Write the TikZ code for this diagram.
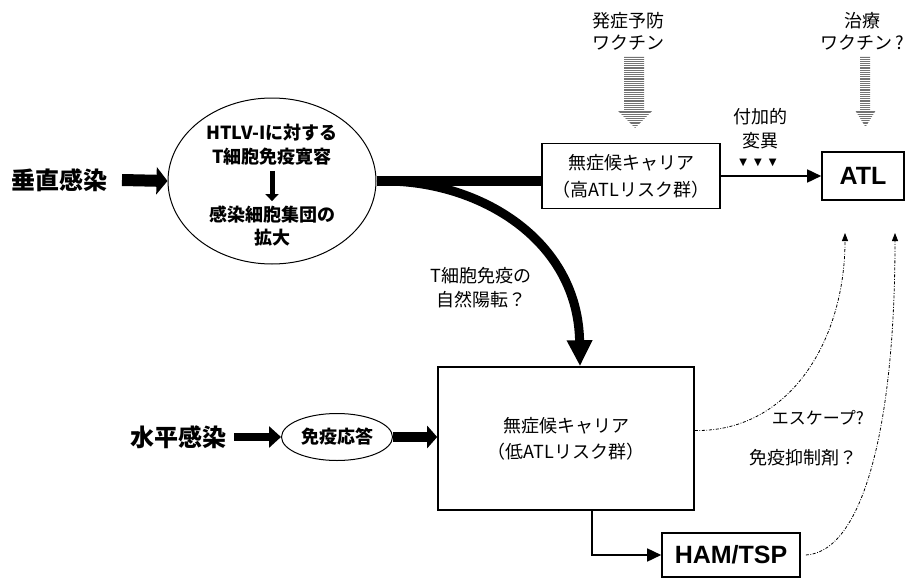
\documentclass[tikz,border=0pt]{standalone}
\usepackage{fontspec}
\setmainfont{Noto Sans CJK JP}
\newfontfamily\lsans{Liberation Sans}
\newfontfamily\dvsans{DejaVu Sans}
\usetikzlibrary{arrows.meta,shapes.geometric}
\begin{document}
\begin{tikzpicture}[x=1pt,y=-1pt,
  box/.style={draw, line width=1.6pt, inner sep=0pt, align=center},
  txt/.style={align=center, inner sep=0pt, font=\fontsize{18}{24}\selectfont},
  btxt/.style={align=center, inner sep=0pt, font=\bfseries\fontsize{18}{24}\selectfont},
  big/.style={inner sep=0pt, font=\bfseries\fontsize{24}{28}\selectfont},
  latinbig/.style={font=\lsans\bfseries\fontsize{25}{28}\selectfont},
  blk/.style={line width=12pt, -{Triangle[length=11pt,width=27pt]}},
  blks/.style={line width=8pt, -{Triangle[length=12pt,width=21pt]}},
  thin/.style={line width=1.6pt, -{Triangle[length=14pt,width=13pt]}},
  dd/.style={line width=0.8pt, dash pattern=on 3pt off 1.6pt on 0.8pt off 1.6pt, -{Triangle[length=8pt,width=6pt]}},
  stripe/.style={line width=1.1pt, black!55}
]
\useasboundingbox (0,0) rectangle (907,578);

% vertical infection
\node[big] (vert) at (60,180) {垂直感染};
\node[draw, ellipse, line width=1pt, minimum width=208pt, minimum height=166pt, inner sep=0pt] (ell) at (272,181) {};
\coordinate (vs) at (122,180);
\draw[blk] (vs) -- (ell.west);
\node[btxt] (e1) at (272,133) {HTLV-Iに対する};
\node[btxt] (e2) at (272,157) {T細胞免疫寛容};
\node[btxt] (e3) at (272,215) {感染細胞集団の};
\node[btxt] (e4) at (272,238) {拡大};
\draw[line width=5pt, -{Triangle[length=7pt,width=13pt]}] ([yshift=-5pt]e2.south) -- ([yshift=5pt]e3.north);

% high-risk carrier
\node[box, minimum width=178pt, minimum height=65pt, txt, font=\fontsize{18}{27}\selectfont] (b1) at (631,176) {無症候キャリア\\（高ATLリスク群）};
\draw[line width=10pt] (ell.east) -- (ell.east -| b1.west);

% ATL
\node[box, latinbig, minimum width=82pt, minimum height=48pt] (atl) at (863,176) {ATL};
\draw[thin] (b1.east) -- (atl.west);
\node[txt] (mut) at (760,129) {付加的\\変異};
\node[inner sep=0pt, font=\dvsans\fontsize{10}{12}\selectfont] (tri) at (758,163) {▼\hspace{7pt}▼\hspace{7pt}▼};

% vaccines
\node[txt, font=\fontsize{18}{22}\selectfont] (vac1) at (628,31) {発症予防\\ワクチン};
\node[txt, font=\fontsize{18}{22}\selectfont] (vac2) at (862,31) {治療\\ワクチン\,?};
\begin{scope}
\clip (624,57) -- (644,57) -- (644,110) -- (653,110) -- (635,128) -- (617,110) -- (624,110) -- cycle;
\foreach \yy in {57,59.2,...,130} \draw[stripe] (610,\yy) -- (660,\yy);
\end{scope}
\begin{scope}
\clip (860,57) -- (870,57) -- (870,110) -- (876,110) -- (865.5,127) -- (855,110) -- (860,110) -- cycle;
\foreach \yy in {57,59.2,...,130} \draw[stripe] (850,\yy) -- (880,\yy);
\end{scope}

% low-risk carrier
\node[box, minimum width=256pt, minimum height=143pt, txt, font=\fontsize{18}{26}\selectfont] (b2) at (566,438.5) {無症候キャリア\\（低ATLリスク群）};
\coordinate (br) at (385,181);
\draw[line width=9pt, -{Triangle[length=26pt,width=24pt]}] (br) .. controls (480,181) and (578,240) .. ([xshift=14pt]b2.north);
\node[txt] (conv) at (481,288) {T細胞免疫の\\自然陽転？};

% horizontal infection
\node[big] (hz) at (178,437) {水平感染};
\node[draw, ellipse, line width=1pt, minimum width=111pt, minimum height=47pt, inner sep=0pt, btxt] (imm) at (337,437) {免疫応答};
\draw[blks] ([xshift=8pt]hz.east) -- (imm.west);
\draw[line width=10pt, -{Triangle[length=10pt,width=22pt]}] (imm.east) -- (imm.east -| b2.west);

% HAM/TSP
\node[box, latinbig, minimum width=138pt, minimum height=44pt] (ham) at (731,555) {HAM/TSP};
\draw[thin] (b2.south -| 592,0) |- (ham.west);

% dashed escape paths
\coordinate (esc) at (845,233);
\coordinate (sup) at (895,233);
\draw[dd] ([yshift=8pt]b2.east) .. controls (790,432) and (845,340) .. (esc);
\draw[dd] ([xshift=5pt]ham.east) .. controls (862,552) and (895,430) .. (sup);
\node[txt, font=\fontsize{17}{20}\selectfont] (escl) at (818,418) {エスケープ?};
\node[txt] (supl) at (803,458) {免疫抑制剤？};
\end{tikzpicture}
\end{document}
